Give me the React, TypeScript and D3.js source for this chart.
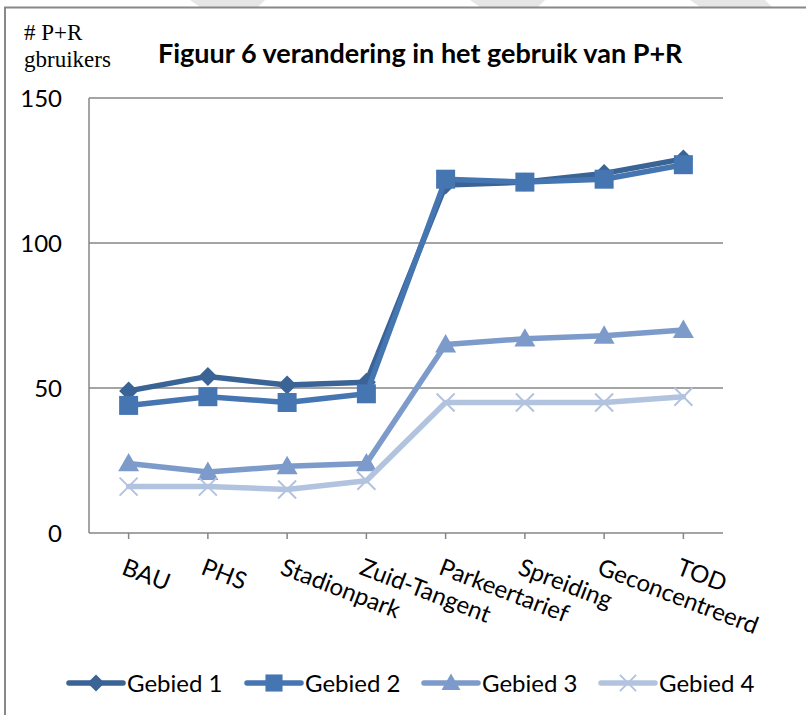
import React from "react";
import * as d3 from "d3";

const categories = ["BAU", "PHS", "Stadionpark", "Zuid-Tangent", "Parkeertarief", "Spreiding", "Geconcentreerd", "TOD"];
const seriesNames = ["Gebied 1", "Gebied 2", "Gebied 3", "Gebied 4"];
const gebied1 = [49, 54, 51, 52, 120, 121, 124, 129];
const gebied2 = [44, 47, 45, 48, 122, 121, 122, 127];
const gebied3 = [24, 21, 23, 24, 65, 67, 68, 70];
const gebied4 = [16, 16, 15, 18, 45, 45, 45, 47];
const yTicks = [0, 50, 100, 150];
const colors = ["#3A6396", "#4676B1", "#7D9BCA", "#B2C3DF"];
const markers = ["diamond", "square", "triangle", "cross"];

const W = 806, H = 715;
const left = 89, right = 723, top = 98, bottom = 533;
const FONT = "Lato, 'Open Sans', sans-serif";

function Marker({ type, x, y, color, s = 1 }: { type: string; x: number; y: number; color: string; s?: number }) {
  if (type === "diamond") {
    const r = 9.5 * s;
    return <path d={`M${x},${y - r}L${x + r},${y}L${x},${y + r}L${x - r},${y}Z`} fill={color} />;
  }
  if (type === "square") {
    const r = 9.5 * s;
    return <rect x={x - r} y={y - r} width={2 * r} height={2 * r} fill={color} />;
  }
  if (type === "triangle") {
    const r = 10.5 * s;
    return <path d={`M${x},${y - r}L${x + r},${y + r * 0.75}L${x - r},${y + r * 0.75}Z`} fill={color} />;
  }
  const r = 9 * s;
  return (
    <path d={`M${x - r},${y - r}L${x + r},${y + r}M${x - r},${y + r}L${x + r},${y - r}`} stroke={color} strokeWidth={2} fill="none" />
  );
}

export default function App() {
  const allSeries = [gebied1, gebied2, gebied3, gebied4];
  const x = d3.scaleBand<string>().domain(categories).range([left, right]);
  const cx = (c: string) => (x(c) as number) + x.bandwidth() / 2;
  const y = d3.scaleLinear().domain([0, 150]).range([bottom, top]);
  const line = d3
    .line<number>()
    .x((_, i) => cx(categories[i]))
    .y((d) => y(d));

  const legendX = [69, 247, 424, 601];

  return (
    <svg width={W} height={H} style={{ position: "absolute", left: 0, top: 0, background: "#fff" }}>
      {/* faint watermark shapes */}
      <path d="M190,0L265,0L258,7L200,7Z" fill="#e6e6e6" />
      <path d="M470,0L545,0L538,7L480,7Z" fill="#e6e6e6" />
      <path d="M690,0L765,0L772,7L700,7Z" fill="#e6e6e6" />
      {/* outer border */}
      <path d={`M5,${H}L5,7.5L${W},7.5`} stroke="#888" strokeWidth={2} fill="none" />

      {/* gridlines */}
      {yTicks.map((t) => (
        <line key={t} x1={left} x2={right} y1={y(t)} y2={y(t)} stroke="#868686" strokeWidth={1.5} />
      ))}
      <line x1={left} x2={left} y1={top} y2={bottom} stroke="#868686" strokeWidth={1.5} />
      {categories.map((c) => (
        <line key={c} x1={cx(c)} x2={cx(c)} y1={bottom} y2={bottom + 6} stroke="#868686" strokeWidth={1.5} />
      ))}

      {/* y tick labels */}
      {yTicks.map((t) => (
        <text key={t} x={62} y={y(t)} dy="0.36em" textAnchor="end" fontFamily={FONT} fontSize={24} fill="#000">
          {t}
        </text>
      ))}

      {/* x labels */}
      {categories.map((c) => (
        <text
          key={c}
          transform={`translate(${cx(c) - 2},${558}) rotate(21)`}
          dy="0.7em"
          textAnchor="start"
          fontFamily={FONT}
          fontSize={24}
          fill="#000"
        >
          {c}
        </text>
      ))}

      {/* series */}
      {allSeries.map((s, si) => (
        <g key={si}>
          <path d={line(s) || ""} fill="none" stroke={colors[si]} strokeWidth={5.5} strokeLinejoin="round" strokeLinecap="round" />
          {s.map((v, i) => (
            <Marker key={i} type={markers[si]} x={cx(categories[i])} y={y(v)} color={colors[si]} />
          ))}
        </g>
      ))}

      {/* titles */}
      <text x={24} y={40} fontFamily="'Liberation Serif', 'DejaVu Serif', serif" fontSize={23} fill="#000">
        # P+R
      </text>
      <text x={24} y={67} fontFamily="'Liberation Serif', 'DejaVu Serif', serif" fontSize={23} fill="#000">
        gbruikers
      </text>
      <text x={158} y={63} fontFamily={FONT} fontWeight="bold" fontSize={27} fill="#000">
        Figuur 6 verandering in het gebruik van P+R
      </text>

      {/* legend */}
      {seriesNames.map((n, i) => (
        <g key={n}>
          <line x1={legendX[i]} x2={legendX[i] + 54} y1={683} y2={683} stroke={colors[i]} strokeWidth={5.5} strokeLinecap="round" />
          <Marker type={markers[i]} x={legendX[i] + 27} y={683} color={colors[i]} s={0.9} />
          <text x={legendX[i] + 58} y={683} dy="0.36em" fontFamily={FONT} fontSize={24} fill="#000">
            {n}
          </text>
        </g>
      ))}
    </svg>
  );
}
